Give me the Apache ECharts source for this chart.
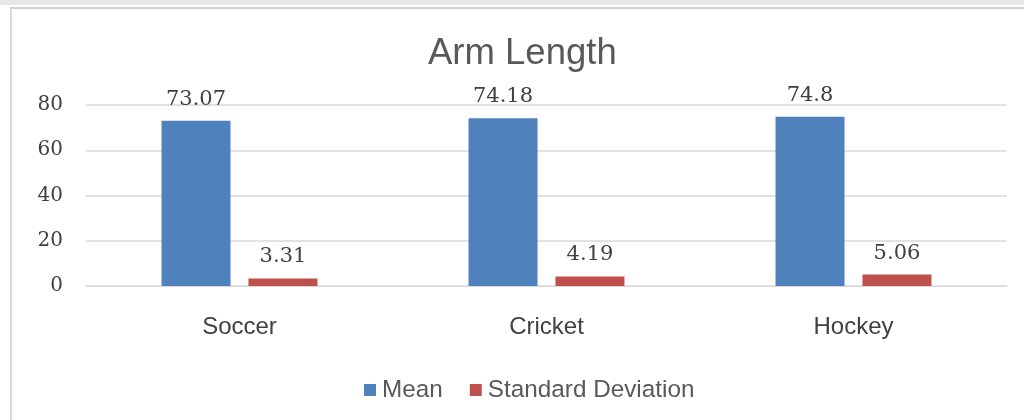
<!DOCTYPE html>
<html><head><meta charset="utf-8">
<script src="https://cdn.jsdelivr.net/npm/echarts@6/dist/echarts.min.js"></script>
<style>html,body{margin:0;padding:0;background:#fff}#c{width:1024px;height:420px}</style>
</head><body><div id="c"></div>
<script>
const categories = ['Soccer', 'Cricket', 'Hockey'];
const meanValues = [73.07, 74.18, 74.8];
const sdValues = [3.31, 4.19, 5.06];
const seriesNames = ['Mean', 'Standard Deviation'];
const yTicks = [0, 20, 40, 60, 80];

const chart = echarts.init(document.getElementById('c'));
const labelStyle = {show: true, position: 'top', distance: 11, fontFamily: 'DejaVu Serif', fontSize: 21, color: '#404040'};
chart.setOption({
  animation: false,
  title: {text: 'Arm Length', left: 423, top: 30, textStyle: {fontFamily: 'Liberation Sans', fontWeight: 'normal', fontSize: 36.5, color: '#595959'}},
  legend: {bottom: 13, left: 359, itemWidth: 12, itemHeight: 12, itemGap: 27, icon: 'rect',
    textStyle: {fontFamily: 'Liberation Sans', fontSize: 24.3, color: '#595959', padding: [0,0,0,1]}, data: seriesNames},
  grid: {left: 86, right: 17, top: 105, bottom: 134},
  xAxis: {type: 'category', data: categories,
    axisLine: {show: true, lineStyle: {color: '#d9d9d9'}}, axisTick: {show: false},
    axisLabel: {fontFamily: 'Liberation Sans', fontSize: 24, color: '#404040', margin: 29}},
  yAxis: {type: 'value', min: yTicks[0], max: yTicks[yTicks.length-1], interval: 20,
    axisLine: {show: false}, axisTick: {show: false},
    splitLine: {lineStyle: {color: '#d9d9d9', width: 1.5}},
    axisLabel: {fontFamily: 'DejaVu Serif', fontSize: 20, color: '#404040', margin: 23, padding: [4,0,0,0]}},
  series: [
    {name: seriesNames[0], type: 'bar', data: meanValues, barWidth: 69, barGap: '26%', itemStyle: {color: '#4F81BD'}, label: labelStyle},
    {name: seriesNames[1], type: 'bar', data: sdValues, barWidth: 69, itemStyle: {color: '#C0504D'}, label: labelStyle}
  ],
  graphic: [
    {type: 'rect', shape: {x: 0, y: 0, width: 1024, height: 5}, style: {fill: '#e8e8e8'}},
    {type: 'line', shape: {x1: 10, y1: 8, x2: 1024, y2: 8}, style: {stroke: '#d0d0d0', lineWidth: 2}},
    {type: 'line', shape: {x1: 11, y1: 8, x2: 11, y2: 420}, style: {stroke: '#d9d9d9', lineWidth: 2}}
  ]
});
</script></body></html>
